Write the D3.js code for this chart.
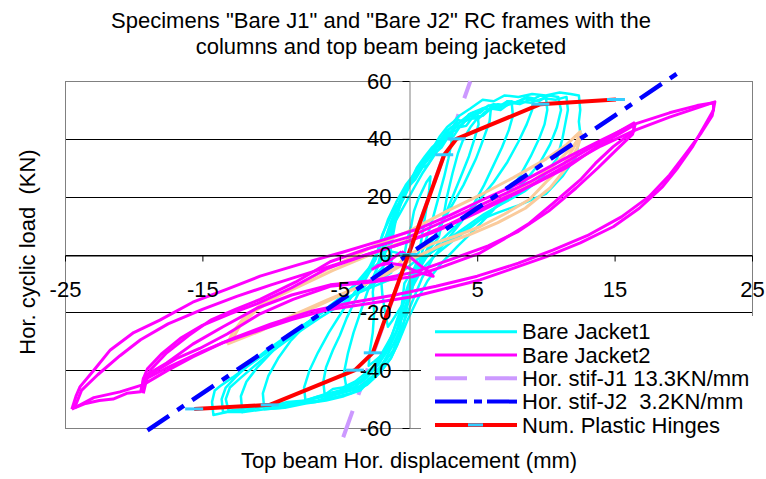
<!DOCTYPE html>
<html>
<head>
<meta charset="utf-8">
<script src="https://cdn.jsdelivr.net/npm/d3@7"></script>
<style>
  body { margin: 0; background: #fff; }
  svg { display: block; }
  text { font-family: Arial, "Liberation Sans", sans-serif; fill: #000; }
</style>
</head>
<body>
<div id="chart"></div>
<script>
const titleLines = ['Specimens "Bare J1" and "Bare J2" RC frames with the', 'columns and top beam being jacketed'];
const xTitle = 'Top beam Hor. displacement (mm)';
const yTitle = 'Hor. cyclic load  (KN)';
const xTicks = [-25, -15, -5, 5, 15, 25];
const yTicks = [-60, -40, -20, 0, 20, 40, 60];
const legendLabels = ['Bare Jacket1', 'Bare Jacket2', 'Hor. stif-J1 13.3KN/mm', 'Hor. stif-J2  3.2KN/mm', 'Num. Plastic Hinges'];

// Bare Jacket1 cycles, [displacement mm, load KN]
const bareJacket1 = [
  [[-0.3,0],[-0.1,5],[0.2,10],[0.4,15],[0.7,19],[1.0,22],[1.3,25],[1.6,27],[1.5,22],[1.3,16],[1.1,10],[0.9,4],[0.6,-2],[0.3,-8],[0,-13],[-0.4,-17],[-0.8,-20],[-1.2,-23],[-1.5,-25],[-1.7,-20],[-1.9,-14],[-2.0,-8],[-1.8,-3],[-1.2,1],[-0.3,0]],
  [[-1.5,2],[-1.2,8],[-0.8,14],[-0.4,20],[0.1,25],[0.6,30],[1.2,34],[1.7,37],[2.2,39],[2.6,40.5],[3.0,41],[3.2,42.5],[3.1,38],[2.9,33],[2.6,27],[2.2,20],[1.8,13],[1.4,7],[1.0,1],[0.6,-6],[0.2,-13],[-0.3,-20],[-0.8,-26],[-1.4,-31],[-2.0,-35],[-2.5,-37],[-2.9,-38.5],[-2.8,-33],[-2.6,-27],[-2.5,-20],[-2.6,-13],[-2.4,-6],[-2.0,-1],[-1.5,2]],
  [[-2,-2],[-1.6,4],[-1.2,10],[-0.7,16],[-0.2,21],[0.4,27],[1.0,31],[1.6,35],[2.2,39],[2.8,43],[3.2,44],[3.6,46.5],[4.0,46],[4.4,48.5],[5.0,49.5],[5.1,45],[4.8,40],[4.4,34],[3.9,28],[3.3,21],[2.7,14],[2.0,7],[1.3,1],[0.7,-6],[0.1,-13],[-0.4,-20],[-0.9,-27],[-1.5,-33],[-2.2,-38],[-2.9,-41.5],[-3.6,-44],[-4.5,-46.5],[-4.7,-41],[-4.4,-34],[-4.0,-27],[-3.5,-20],[-3.0,-13],[-2.5,-7],[-2,-2]],
  [[-2.6,-4],[-2.2,2],[-1.9,7],[-1.4,12],[-1.0,16],[-0.4,19],[0.1,24],[0.5,26],[1.0,30],[1.4,31],[1.9,35],[2.4,37],[2.8,40],[3.3,41],[3.7,44],[4.2,44.5],[4.6,47],[5.1,47],[5.5,49],[6.0,50.5],[5.9,46],[5.6,42],[5.3,38],[4.9,33],[4.5,29],[4.0,24],[3.4,19],[2.8,14],[2.1,8],[1.5,3],[0.8,-3],[0.2,-9],[-0.3,-16],[-0.8,-22],[-1.2,-28],[-1.8,-33],[-2.4,-38],[-3.1,-41],[-3.9,-44],[-4.8,-46],[-5.5,-46.5],[-6.1,-48.5],[-6.2,-44],[-6.0,-39],[-5.5,-33],[-5.0,-28],[-4.5,-22],[-3.9,-16],[-3.3,-10],[-2.6,-4]],
  [[-3,-6],[-2.5,-1],[-1.8,5],[-1,11],[-0.3,17],[0.4,23],[1.0,28],[1.7,33],[2.4,38],[3.0,42],[3.6,45],[4.2,47.5],[4.8,48],[5.4,50.5],[6.0,50],[6.5,52],[7.0,51.5],[7.5,53],[7.6,48],[7.3,43],[6.8,37],[6.2,31],[5.5,24],[4.7,17],[3.8,11],[2.8,5],[1.8,-1],[1.0,-8],[0.3,-16],[-0.4,-24],[-1.1,-31],[-1.8,-37],[-2.6,-42],[-3.5,-45.5],[-4.6,-47],[-5.6,-48.5],[-6.5,-49],[-7.5,-50.5],[-7.6,-46],[-7.2,-40],[-6.6,-34],[-5.8,-27],[-5.0,-21],[-4.2,-15],[-3.5,-10],[-3,-6]],
  [[-2.2,-3],[-1.8,4],[-1.3,11],[-0.8,17],[-0.1,23],[0.6,28],[1.3,32],[2.0,36.5],[2.6,40],[3.3,43.5],[3.9,45],[4.5,48],[5.2,49],[5.8,51.5],[6.5,51],[7.2,53],[8.0,52.5],[8.6,54.5],[9.1,54],[9.0,50],[8.6,45],[8.0,39],[7.2,32],[6.2,25],[5.0,18],[3.7,11],[2.4,5],[1.3,-1],[0.4,-8],[-0.3,-15],[-0.8,-23],[-1.4,-30],[-2.0,-36],[-2.8,-41],[-3.8,-44.5],[-5,-47],[-6.2,-48.5],[-7.5,-50.5],[-8.8,-51],[-10,-52.5],[-11.2,-53],[-12.1,-54.5],[-12.2,-49],[-11.8,-44],[-11,-39],[-9.8,-33],[-8.3,-27],[-6.6,-21],[-5,-15],[-3.5,-9],[-2.2,-3]],
  [[-1,-8],[0.3,-3],[1.4,1],[2.2,6],[2.5,12],[2.8,20],[3.2,28],[3.6,35],[4.0,40],[4.5,44],[5.0,47],[5.5,48.5],[6.0,51],[6.6,50.5],[7.2,53],[7.8,52.5],[8.4,54],[9.0,53.5],[9.6,55],[10.0,54.5],[10.1,50],[9.9,45],[9.5,40],[8.9,34],[8.1,27],[7.2,21],[6.1,15],[4.9,9],[3.6,3],[2.4,-3],[1.4,-9],[0.6,-16],[-0.1,-23],[-0.7,-30],[-1.3,-36],[-2.1,-41],[-3.0,-45],[-4.2,-48],[-5.5,-49.5],[-6.8,-51],[-8.0,-51.5],[-9.2,-53],[-10.5,-53.5],[-10.6,-48],[-10.2,-42],[-9.5,-36],[-8.6,-30],[-7.4,-24],[-6,-19],[-4.5,-15],[-3,-12],[-1,-8]],
  [[-2.4,-2],[-2.0,5],[-1.5,12],[-0.9,18],[-0.2,24],[0.6,29],[1.4,34],[2.1,38],[2.9,42],[3.5,43],[4.1,46],[4.8,47.5],[5.4,48],[6.0,50.5],[6.7,50],[7.4,52.5],[8.1,52],[8.8,53.5],[9.5,53],[10.2,55],[10.9,54.5],[11.1,50],[10.8,44],[10.3,38],[9.6,32],[8.6,26],[7.4,20],[6.1,15.5],[4.7,10],[3.3,5],[2.0,0],[1.0,-5],[0.3,-11],[-0.1,-18],[-0.4,-25],[-0.8,-31],[-1.3,-36],[-2.0,-40.5],[-2.9,-44],[-4.1,-47],[-5.3,-48.5],[-6.6,-50.5],[-7.9,-51],[-9.2,-52.5],[-10.5,-52.5],[-11.8,-54],[-13.5,-54.5],[-13.6,-50],[-13.3,-46],[-12.6,-42.5],[-11.6,-38],[-10.3,-33],[-8.8,-28],[-7.2,-23],[-5.6,-17.5],[-4.0,-11],[-2.4,-2]],
  [[-1.8,-4],[-1.6,5],[-1.1,13],[-0.4,21],[0.3,27],[1.0,32],[1.7,36],[2.4,40],[3.1,44],[3.8,46],[4.6,49],[5.4,50.5],[6.2,52],[7.1,51.5],[8,53],[8.9,52.5],[9.8,54],[10.7,53.5],[11.5,54.5],[11.6,50],[11.4,45],[11.2,40],[10.8,33],[9.8,27],[8.5,22],[7,18],[5.5,14],[4,9],[2.5,4],[1.2,-1],[0.3,-6],[-0.2,-13],[-0.5,-20],[-0.9,-27],[-1.5,-33],[-2.2,-38],[-3.0,-42.5],[-4.0,-46],[-5.2,-48],[-6.5,-49.5],[-8,-51],[-9.5,-52.5],[-11,-52.5],[-12.2,-53.5],[-13.1,-54],[-13.3,-50],[-13.0,-46],[-12.3,-43],[-11.2,-38.5],[-9.8,-33],[-8.2,-27.5],[-6.5,-22],[-4.8,-17],[-3.3,-11.5],[-1.8,-4]],
  [[-1.2,-6],[-1.3,2],[-1.0,10],[-0.6,19],[0,24],[0.6,29],[1.2,33],[1.8,37],[2.3,41],[2.8,44],[3.3,46],[3.7,48],[4.5,50.5],[5.4,53.5],[6.2,53],[7,55],[8,54.5],[9,55.5],[10,55],[11,56],[11.8,55.5],[12.4,55],[12.5,50],[12.4,46],[12.5,42],[12.2,34],[11.2,27],[10,21],[8,17],[6.5,14.5],[5.2,12],[3.5,6.5],[1.6,0.5],[0.5,-4],[-0.3,-10],[-0.5,-18],[-0.6,-26],[-1.1,-33],[-1.7,-37],[-2.3,-41],[-2.9,-44],[-3.5,-47],[-4.7,-49],[-6,-50.5],[-7.5,-51.5],[-9,-53],[-10.5,-53.5],[-12,-54.5],[-13.2,-54.5],[-14.2,-55.5],[-14.3,-51],[-14.1,-47],[-13.7,-45.5],[-12.8,-42.5],[-11.8,-39],[-10.2,-33.5],[-8.4,-27],[-6.6,-21],[-4.8,-15.7],[-3,-11.5],[-1.2,-6]]
];

// Bare Jacket2 cycles
const bareJacket2 = [
  [[-0.5,1],[-1.2,-1.5],[-2,-3.5],[-2.6,-5],[-2.2,-3.8],[-1.4,-3],[-0.5,-3.6],[0.4,-5.5],[1.2,-6.8],[1.8,-7.5],[1.5,-6],[0.9,-4],[0.2,-1.2],[-0.5,1]],
  [[-19.3,-48],[-19.1,-44],[-18.8,-40],[-17.6,-34],[-16,-28],[-14.4,-22.7],[-12.6,-19],[-10.8,-15.5],[-8.2,-9.5],[-5.7,-2.5],[-3,2],[0,6],[2.6,11.5],[5.2,17],[8.8,25],[11.3,31.5],[14,39],[15.5,43],[16.4,45.5],[16.4,42.7],[14.9,37.3],[13.6,31.5],[12.5,25.8],[10.6,18],[8.8,10.8],[7,5.5],[5.2,0.5],[2.6,-4],[0.3,-7.7],[-2.7,-9.5],[-5.7,-11],[-8.4,-15.5],[-10.8,-20.5],[-13.2,-27.5],[-15.2,-32.5],[-16.9,-36],[-18.3,-40],[-19.3,-43],[-19.3,-48]],
  [[-19.4,-47],[-19.3,-43],[-19,-39.5],[-18,-34.5],[-16.6,-29],[-15,-24.5],[-13,-20.5],[-11,-17],[-8.5,-11.5],[-6,-5],[-3,0],[0,4.5],[3,10.5],[6,17.5],[9,24],[11.5,30],[13.8,37.5],[15.6,42.5],[16.5,45],[16.3,41.5],[15.2,36.5],[13.8,30],[12.2,23],[10.2,15],[8,8],[5.8,3],[3.2,-1.5],[0.5,-6],[-2.5,-9],[-5.7,-10.5],[-8.5,-14],[-11,-18.5],[-13.5,-25],[-15.7,-31],[-17.6,-37.5],[-19.2,-42],[-19.4,-47]],
  [[-24.5,-53.5],[-24.2,-49],[-23.9,-45.7],[-22.9,-40],[-21.7,-33],[-20,-27],[-18.1,-22.7],[-15.7,-16.5],[-13.2,-12],[-10.8,-7.5],[-8,-3.5],[-4.8,0.8],[-2,4.8],[0.8,9],[3,13.5],[5.2,18.5],[8,24.5],[11.3,33],[14,39.5],[16.4,45],[19,49],[21,51.5],[22.2,52.5],[22.2,50],[21.6,45],[20.7,37.5],[19.6,30],[18.5,23.5],[16.8,16],[14.9,9.6],[12.5,4],[10,-0.8],[7.5,-5],[5.2,-8.8],[2.5,-12],[0.3,-14.6],[-3,-17],[-6,-19.2],[-8.5,-22.5],[-10.8,-26.1],[-13.5,-30.5],[-15.7,-35.4],[-17.5,-40],[-19.3,-45],[-21,-47.5],[-22.9,-49.5],[-24.5,-53.5]],
  [[-24.3,-53],[-23.8,-47],[-22.6,-41.5],[-21,-35],[-19.5,-29.5],[-17.5,-24],[-15,-19],[-12.5,-14.5],[-10,-10.5],[-7,-6],[-4,-1.5],[-1,3],[2,8],[5,14.5],[8,21.5],[11,29.5],[14,37.5],[16.5,43],[19,47.5],[21.5,51.5],[22.3,52.8],[22.1,48],[21.3,42],[20.2,35],[19,27.5],[17.5,20],[15.5,13],[13,6.5],[10.5,1.5],[8,-3],[5,-7.5],[2,-11],[-1,-14],[-4,-16.5],[-7,-19.5],[-10,-24],[-12.5,-28.5],[-15,-33.5],[-17.5,-39],[-19.3,-43.5],[-19.5,-47.5],[-20.5,-48],[-21.5,-50],[-22.5,-50.5],[-23.5,-51.5],[-24.3,-53]]
];

// extra cycles drawn in peach, no legend entry
const otherCycles = [
  [[-13.2,-31],[-12.8,-27],[-12,-22],[-10.5,-16.5],[-8.4,-11.5],[-6.5,-6.5],[-4.8,-2.5],[-2.5,3],[0,8],[2.8,15],[5.2,20.5],[7.6,26.5],[10,33],[11.5,38],[12.5,42.5],[12.2,38.5],[11.3,31],[10,25],[8.8,19],[7,14],[5.2,9.6],[3.5,6.5],[1.6,3.5],[0,0],[-1.1,-5],[-3,-10],[-5.9,-15.7],[-8.4,-21],[-10.8,-26.5],[-13.2,-31]],
  [[-12.9,-30],[-12.2,-24],[-11,-19],[-9.5,-14.5],[-7.5,-10],[-5.5,-5.5],[-3.5,-1.5],[-1.5,2.5],[1,6.5],[3.5,11.5],[6,17.5],[8.5,23.5],[10.5,30.5],[12,37.5],[12.6,41.5],[12.3,37],[11.5,30],[10.3,23],[8.5,16],[6.5,11],[4.5,7],[2.5,3.5],[0.5,-1],[-1.5,-6.5],[-4,-12],[-6.5,-17.5],[-9,-22.5],[-11.5,-27],[-12.9,-30]]
];

const stifJ1 = [[-4.75, -63.2], [4.5, 59.9]];
const stifJ2 = [[-19, -60.8], [20, 64]];
const plasticHinges = [[-15.6,-53.4],[-10.1,-52],[-3.9,-40],[-2.6,-34],[0,0],[2.6,34.5],[3.5,40],[9.6,52],[15.1,53.6]];

const width = 766, height = 479;
const svg = d3.select('#chart').append('svg')
  .attr('width', width)
  .attr('height', height);

const x = d3.scaleLinear().domain([-25, 25]).range([65, 752]);
const y = d3.scaleLinear().domain([-60, 60]).range([428, 81]);
const line = d3.line().x(d => x(d[0])).y(d => y(d[1]));

// title
svg.append('g').selectAll('text')
  .data(titleLines)
  .join('text')
    .attr('x', 381)
    .attr('y', (d, i) => 28 + i * 26)
    .attr('text-anchor', 'middle')
    .attr('font-size', 22)
    .text(d => d);

// horizontal gridlines and plot border
svg.append('g').selectAll('line')
  .data(yTicks.filter(v => v > -60 && v < 60))
  .join('line')
    .attr('x1', x(-25)).attr('x2', x(25))
    .attr('y1', d => Math.round(y(d)) + 0.5).attr('y2', d => Math.round(y(d)) + 0.5)
    .attr('stroke', '#000');

svg.append('rect')
  .attr('x', Math.round(x(-25)) + 0.5).attr('y', Math.round(y(60)) + 0.5)
  .attr('width', Math.round(x(25) - x(-25))).attr('height', Math.round(y(-60) - y(60)))
  .attr('fill', 'none')
  .attr('stroke', '#808080');

function drawCycles(cycles, color, w, dash) {
  svg.append('g').selectAll('path')
    .data(cycles)
    .join('path')
      .attr('d', line)
      .attr('fill', 'none')
      .attr('stroke', color)
      .attr('stroke-width', w)
      .attr('stroke-dasharray', dash || null)
      .attr('stroke-linejoin', 'round');
}

drawCycles([stifJ1], '#CC99FF', 4, '28,17');
drawCycles(bareJacket1, '#00FFFF', 2.5);
drawCycles(otherCycles, '#FACB9C', 3);
drawCycles(bareJacket2, '#FF00FF', 3);
drawCycles([stifJ2], '#0000FF', 4.5, '26,10,8,10');
drawCycles([plasticHinges], '#FF0000', 4);

svg.append('g').selectAll('rect')
  .data(plasticHinges)
  .join('rect')
    .attr('x', d => x(d[0]) - 9)
    .attr('y', d => y(d[1]) - 1.5)
    .attr('width', 18)
    .attr('height', 3)
    .attr('fill', '#33CCFF');

// axes cross at the origin, plain hyphen for negatives
const yAxis = svg.append('g')
  .attr('transform', `translate(${Math.round(x(0)) + 0.5},0)`)
  .call(d3.axisLeft(y).tickValues(yTicks).tickFormat(d => String(d))
    .tickSize(7).tickSizeOuter(0).tickPadding(11));
yAxis.select('.domain').attr('stroke', '#808080');
yAxis.selectAll('.tick line').attr('stroke', '#000');

const xAxis = svg.append('g')
  .attr('transform', `translate(0,${Math.round(y(0)) + 0.5})`)
  .call(d3.axisBottom(x).tickValues(xTicks).tickFormat(d => String(d))
    .tickSize(6).tickSizeOuter(0).tickPadding(20));
xAxis.select('.domain').attr('stroke', '#000');

svg.selectAll('.tick text')
  .attr('font-size', 22)
  .attr('font-family', 'Arial, "Liberation Sans", sans-serif');
xAxis.attr('font-family', null).attr('font-size', null);
yAxis.attr('font-family', null).attr('font-size', null);

// axis titles
svg.append('text')
  .attr('x', 409).attr('y', 468)
  .attr('text-anchor', 'middle')
  .attr('font-size', 22)
  .text(xTitle);

svg.append('text')
  .attr('transform', 'translate(35,252) rotate(-90)')
  .attr('text-anchor', 'middle')
  .attr('font-size', 22)
  .style('white-space', 'pre')
  .text(yTitle);

// legend
const legend = svg.append('g');
legend.append('rect')
  .attr('x', 421).attr('y', 316)
  .attr('width', 345).attr('height', 130)
  .attr('fill', '#fff');

const legendColors = ['#00FFFF', '#FF00FF', '#CC99FF', '#0000FF', '#FF0000'];
const legendDash = [null, null, '32,18', '32,7,8,5', null];
const legendRow = legend.selectAll('g.item')
  .data(legendLabels)
  .join('g')
    .attr('class', 'item')
    .attr('transform', (d, i) => `translate(0,${331.7 + i * 23.3})`);

legendRow.append('line')
  .attr('x1', 435).attr('x2', 517)
  .attr('stroke', (d, i) => legendColors[i])
  .attr('stroke-width', (d, i) => i < 2 ? 3 : 4)
  .attr('stroke-dasharray', (d, i) => legendDash[i]);

legendRow.filter((d, i) => i === 4).append('rect')
  .attr('x', 468).attr('y', -1.5)
  .attr('width', 15).attr('height', 3)
  .attr('fill', '#33CCFF');

legendRow.append('text')
  .attr('x', 522)
  .attr('dy', '0.35em')
  .attr('font-size', 22)
  .style('white-space', 'pre')
  .text(d => d);
</script>
</body>
</html>
